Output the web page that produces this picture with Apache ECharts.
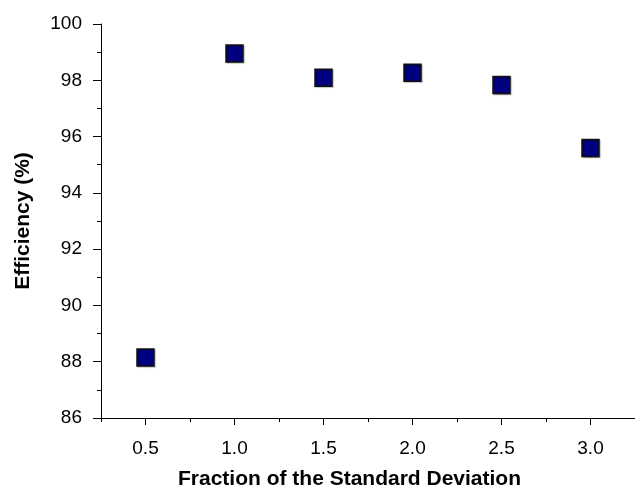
<!DOCTYPE html>
<html>
<head>
<meta charset="utf-8">
<script src="https://cdn.jsdelivr.net/npm/echarts@6/dist/echarts.min.js"></script>
<style>html,body{margin:0;padding:0;background:#fff}#c{width:635px;height:489px}</style>
</head>
<body>
<div id="c"></div>
<script>
var fractions = [0.5, 1.0, 1.5, 2.0, 2.5, 3.0];
var efficiency = [88.15, 98.95, 98.09, 98.27, 97.83, 95.59];
var xMajorTicks = [0.5, 1.0, 1.5, 2.0, 2.5, 3.0];
var xMinorTicks = [0.25, 0.75, 1.25, 1.75, 2.25, 2.75];

var font = '"Liberation Sans", Arial, Helvetica, sans-serif';
var chart = echarts.init(document.getElementById('c'));
chart.setOption({
  animation: false,
  grid: {left: 101, top: 24, right: 0, bottom: 71, containLabel: false, outerBoundsMode: 'none'},
  xAxis: [{
    type: 'value', min: 0.25, max: 3.25,
    name: 'Fraction of the Standard Deviation', nameLocation: 'middle', nameGap: 51,
    nameTextStyle: {fontFamily: font, fontSize: 21, fontWeight: 'bold', color: '#000', padding: [0, 37, 0, 0]},
    axisLine: {show: true, onZero: false, lineStyle: {color: '#000', width: 1}},
    axisTick: {show: true, length: 7, lineStyle: {color: '#000', width: 1}, customValues: xMajorTicks},
    axisLabel: {fontFamily: font, fontSize: 19, color: '#000', margin: 21, customValues: xMajorTicks,
      formatter: function (v) { return v.toFixed(1); }},
    splitLine: {show: false}
  }, {
    type: 'value', min: 0.25, max: 3.25, position: 'bottom', gridIndex: 0,
    axisLine: {show: false},
    axisTick: {show: true, length: 4, lineStyle: {color: '#000', width: 1}, customValues: xMinorTicks},
    axisLabel: {show: false},
    splitLine: {show: false}
  }],
  yAxis: {
    type: 'value', min: 86, max: 100, interval: 2,
    name: 'Efficiency (%)', nameLocation: 'middle', nameGap: 67, nameRotate: 90,
    nameTextStyle: {fontFamily: font, fontSize: 21, fontWeight: 'bold', color: '#000'},
    axisLine: {show: true, lineStyle: {color: '#000', width: 1}},
    axisTick: {show: true, length: 8, lineStyle: {color: '#000', width: 1}},
    minorTick: {show: true, splitNumber: 2, length: 4, lineStyle: {color: '#000', width: 1}},
    axisLabel: {fontFamily: font, fontSize: 19, color: '#000', margin: 19},
    splitLine: {show: false}
  },
  series: [{
    type: 'scatter',
    xAxisIndex: 0,
    symbol: 'rect', symbolSize: 17,
    data: fractions.map(function (f, i) { return [f, efficiency[i]]; }),
    itemStyle: {color: '#000080', opacity: 1, borderColor: '#111', borderWidth: 1.5,
      shadowColor: 'rgba(0,0,0,0.25)', shadowOffsetX: 1, shadowOffsetY: 1, shadowBlur: 1}
  }]
});
</script>
</body>
</html>
